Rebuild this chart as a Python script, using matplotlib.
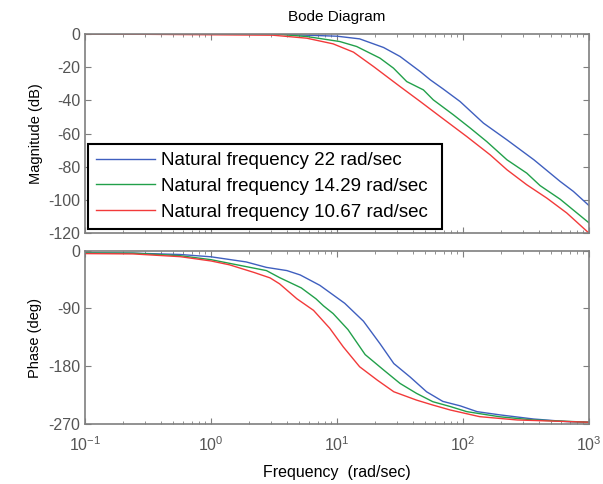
import matplotlib
matplotlib.use('Agg')
import matplotlib.pyplot as plt
from matplotlib.ticker import LogLocator, NullFormatter

plt.rcParams['font.family'] = ['Liberation Sans', 'DejaVu Sans']
plt.rcParams['axes.unicode_minus'] = False

labels = ['Natural frequency 22 rad/sec',
          'Natural frequency 14.29 rad/sec',
          'Natural frequency 10.67 rad/sec']
colors = ['#3f5fbf', '#22a04a', '#f23a3a']

# magnitude (dB)
w_mag_22 = [0.1, 3.1, 5.75, 10, 15.1, 23.4, 31.6, 45.7, 55, 69, 94.6, 145, 223, 365, 589, 750, 1000]
mag_22 = [0, 0, -0.8, -1.4, -3, -8.2, -13.6, -22.7, -27.7, -33, -40.7, -53.7, -63.8, -75.8, -88.8, -94.8, -103.4]

w_mag_14 = [0.1, 3.1, 5.75, 10.5, 14.3, 21.9, 28, 35.7, 48.4, 58, 83.7, 114, 154, 223, 320, 408, 589, 1000]
mag_14 = [0, 0, -1.6, -4.6, -7.6, -14.6, -20.6, -28.7, -33.7, -39.7, -48.7, -56.7, -64.8, -75.8, -83.8, -91.3, -99.5, -113.8]

w_mag_10 = [0.1, 3.1, 5.75, 9.3, 13.5, 19.5, 28, 31.6, 45.7, 65.6, 107, 164, 223, 320, 461, 665, 1000]
mag_10 = [0, -0.8, -2.6, -6, -11, -19.7, -28.7, -31.7, -40.7, -49.7, -61.8, -72.8, -81.8, -90.8, -98.8, -107.8, -120]

# phase (deg)
w_ph_22 = [0.1, 0.24, 0.57, 1.0, 1.9, 2.75, 4.0, 5.1, 7.3, 11.5, 16.2, 21.9, 28.2, 38, 51.3, 69, 95, 129, 195, 363, 661, 1000]
ph_22 = [-3.5, -3.8, -5.9, -9.5, -17.5, -26, -31, -37.8, -54, -82, -110, -145, -176, -197, -220, -235, -242, -251, -256, -262.5, -266.5, -267.5]

w_ph_14 = [0.1, 0.24, 0.57, 1.0, 1.92, 2.75, 3.5, 5.2, 6.8, 7.8, 9.3, 12.2, 16.7, 23.4, 31.6, 42.7, 57.5, 79, 107, 195, 363, 1000]
ph_14 = [-3.5, -3.8, -7.8, -14, -25, -31, -42, -58, -75, -86, -98, -123, -162, -186, -207, -222.5, -235.5, -243, -251, -259, -264, -267.5]

w_ph_10 = [0.1, 0.24, 0.57, 1.0, 1.4, 2.2, 2.94, 3.5, 4.8, 6.5, 8.75, 11.2, 15.1, 20.9, 28.2, 42.7, 57.5, 79, 135, 269, 1000]
ph_10 = [-4.5, -5, -9.3, -16, -22, -34, -42.4, -51.7, -75, -93, -121, -150, -181, -202, -220, -233, -240.7, -248.4, -258.8, -264, -267.5]

mag_ticks = [0, -20, -40, -60, -80, -100, -120]
ph_ticks = [0, -90, -180, -270]

fig = plt.figure(figsize=(6.03, 4.84), dpi=100)
ax1 = fig.add_axes([0.141, 0.518, 0.836, 0.412])
ax2 = fig.add_axes([0.141, 0.123, 0.836, 0.359])

frame = '#7f7f7f'
for ax in (ax1, ax2):
    ax.set_xscale('log')
    ax.set_xlim(0.1, 1000)
    ax.xaxis.set_major_locator(LogLocator(base=10, numticks=10))
    ax.xaxis.set_minor_locator(LogLocator(base=10, subs=range(2, 10), numticks=20))
    ax.xaxis.set_minor_formatter(NullFormatter())
    ax.tick_params(which='both', direction='in', top=True, right=True,
                   color=frame, labelcolor='#555555', labelsize=11.5)
    ax.tick_params(which='major', length=4)
    ax.tick_params(which='minor', length=2)
    for sp in ax.spines.values():
        sp.set_color(frame)
        sp.set_linewidth(1.2)

for w, m, c, lab in zip([w_mag_22, w_mag_14, w_mag_10], [mag_22, mag_14, mag_10], colors, labels):
    ax1.plot(w, m, color=c, lw=1.0, label=lab)
ax1.set_ylim(-120, 0)
ax1.set_yticks(mag_ticks)
ax1.tick_params(axis='x', labelbottom=False)
ax1.set_ylabel('Magnitude (dB)', fontsize=10.5, labelpad=4)
ax1.set_title('Bode Diagram', fontsize=11, pad=9)

leg = ax1.legend(loc='lower left', bbox_to_anchor=(0.006, 0.0215, 0.702, 0.461), mode='expand',
                 borderaxespad=0, fontsize=13.5, fancybox=False, framealpha=1,
                 edgecolor='black', handlelength=3.1, handletextpad=0.35,
                 labelspacing=0.45, borderpad=0.45)
leg.get_frame().set_linewidth(1.5)

for w, p, c in zip([w_ph_22, w_ph_14, w_ph_10], [ph_22, ph_14, ph_10], colors):
    ax2.plot(w, p, color=c, lw=1.0)
ax2.set_ylim(-271, 0)
ax2.set_yticks(ph_ticks)
ax2.set_ylabel('Phase (deg)', fontsize=10.5, labelpad=4)
ax2.set_xlabel('Frequency  (rad/sec)', fontsize=11.5, labelpad=8)
ax2.tick_params(axis='x', pad=8)

fig.savefig('out.png', dpi=100)
